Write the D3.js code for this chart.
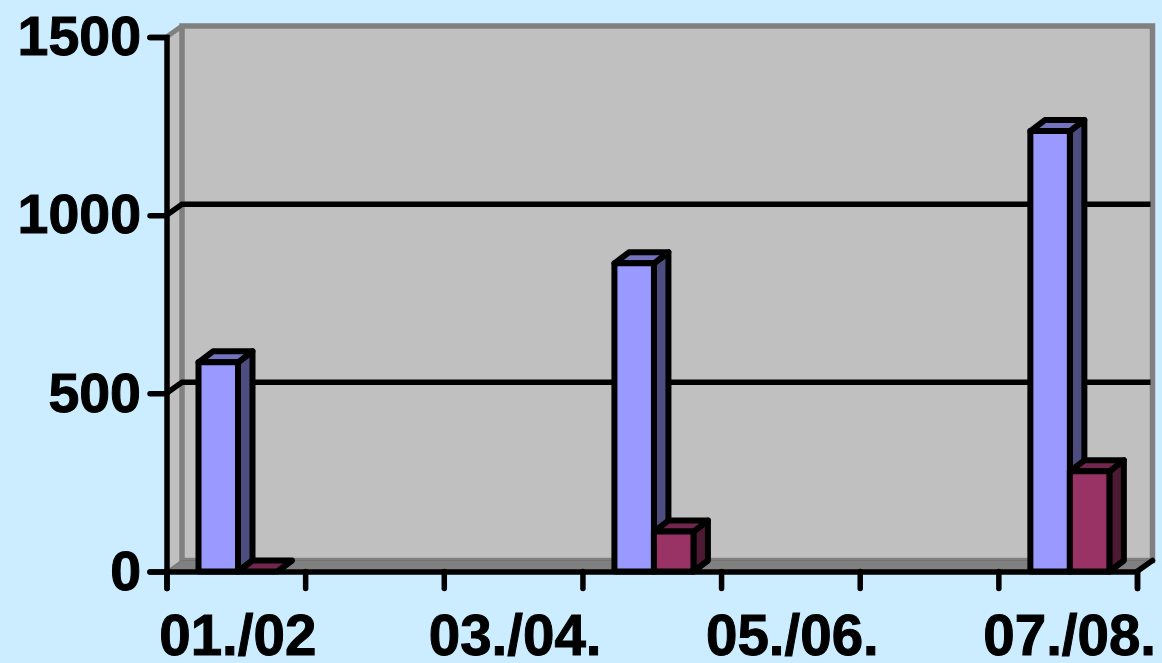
<!DOCTYPE html>
<html>
<head>
<meta charset="utf-8">
<script src="https://cdnjs.cloudflare.com/ajax/libs/d3/7.8.5/d3.min.js"></script>
<style>
  html, body { margin: 0; padding: 0; background: #ccecff; overflow: hidden; }
  text { font-family: "Liberation Sans", Arial, sans-serif; font-weight: bold; fill: #000; }
</style>
</head>
<body>
<svg id="chart" width="1162" height="663"></svg>
<script>
var categories = ["01./02", "02./03", "03./04.", "04./05.", "05./06.", "06./07.", "07./08."];
var shownLabels = ["01./02", "03./04.", "05./06.", "07./08."];
var seriesNames = ["a", "b"];
var seriesA = [587, null, null, 865, null, null, 1236];
var seriesB = [0, null, null, 112, null, null, 281];
var yTicks = [0, 500, 1000, 1500];

var left = 166.5, right = 1137, top_ = 37, bottom = 571.5;
var depthX = 15.5, depthY = -11;
var barDepthX = 14.5;

var colors = {
  a: { front: "#9999ff", side: "#4d4d80", top: "#7373bf" },
  b: { front: "#993366", side: "#4d1a33", top: "#73264d" }
};

var svg = d3.select("#chart");

var y = d3.scaleLinear().domain([0, 1500]).range([bottom, top_]);
var x = d3.scaleBand().domain(categories).range([left, right]);
var inner = d3.scaleBand().domain(seriesNames).range([32, 111]);

// left wall
svg.append("path")
  .attr("d", d3.line()([[left, top_], [left + depthX, top_ + depthY], [left + depthX, bottom + depthY], [left, bottom]]))
  .attr("fill", "#c0c0c0")
  .attr("stroke", "#808080")
  .attr("stroke-width", 2);

// back wall
svg.append("rect")
  .attr("x", left + depthX)
  .attr("y", top_ + depthY)
  .attr("width", right - left)
  .attr("height", bottom - top_)
  .attr("fill", "#c0c0c0")
  .attr("stroke", "#808080")
  .attr("stroke-width", 5.5);

svg.append("line")
  .attr("x1", left).attr("y1", top_)
  .attr("x2", left + depthX).attr("y2", top_ + depthY)
  .attr("stroke", "#808080")
  .attr("stroke-width", 5);

// floor
svg.append("path")
  .attr("d", d3.line()([[left, bottom], [left + depthX, bottom + depthY], [right + depthX, bottom + depthY], [right, bottom]]))
  .attr("fill", "#808080")
  .attr("stroke", "#737373")
  .attr("stroke-width", 1);

// gridlines, they start at the axis and bend onto the back wall
yTicks.filter(function(d) { return d > 0 && d < 1500; }).forEach(function(d) {
  svg.append("path")
    .attr("d", d3.line()([[left, y(d)], [left + depthX, y(d) + depthY], [right + depthX - 2, y(d) + depthY]]))
    .attr("fill", "none")
    .attr("stroke", "#000")
    .attr("stroke-width", 5.5);
});

// floor edge on the right side
svg.append("line")
  .attr("x1", right).attr("y1", bottom)
  .attr("x2", right + depthX).attr("y2", bottom + depthY)
  .attr("stroke", "#000")
  .attr("stroke-width", 5.5)
  .attr("stroke-linecap", "round");

function drawBar(g, x0, w, value, c) {
  var yt = y(value), dx = barDepthX, dy = depthY;
  var faces = [
    { fill: c.side, pts: [[x0 + w, yt], [x0 + w + dx, yt + dy], [x0 + w + dx, bottom + dy], [x0 + w, bottom]] },
    { fill: c.top, pts: [[x0, yt], [x0 + dx, yt + dy], [x0 + w + dx, yt + dy], [x0 + w, yt]] },
    { fill: c.front, pts: [[x0, yt], [x0 + w, yt], [x0 + w, bottom], [x0, bottom]] }
  ];
  // a zero bar is only its lid
  if (value === 0) faces = faces.slice(1, 2);
  g.selectAll("path").data(faces).enter().append("path")
    .attr("d", function(d) { return d3.line()(d.pts) + "Z"; })
    .attr("fill", function(d) { return d.fill; })
    .attr("stroke", "#000")
    .attr("stroke-width", 6)
    .attr("stroke-linejoin", "round");
}

categories.forEach(function(cat, i) {
  if (seriesA[i] === null) return;
  drawBar(svg.append("g"), x(cat) + inner("a"), inner.bandwidth(), seriesA[i], colors.a);
  drawBar(svg.append("g"), x(cat) + inner("b"), inner.bandwidth(), seriesB[i], colors.b);
});

// axes
var yAxis = d3.axisLeft(y).tickValues(yTicks).tickSize(16.5).tickPadding(9).tickFormat(d3.format("d"));
var yG = svg.append("g").attr("transform", "translate(" + left + ",0)").call(yAxis);

var bandEdges = categories.map(function(c) { return x(c); }).concat([right]);
var xEdge = d3.scaleLinear().domain([left, right]).range([left, right]);
var xTicksG = d3.axisBottom(xEdge).tickValues(bandEdges).tickSize(17).tickFormat("");
var xG = svg.append("g").attr("transform", "translate(0," + bottom + ")").call(xTicksG);

var xLabels = d3.axisBottom(x).tickSize(0).tickPadding(43)
  .tickFormat(function(d) { return shownLabels.indexOf(d) >= 0 ? d : ""; });
var xL = svg.append("g").attr("transform", "translate(2," + bottom + ")").call(xLabels);
xL.select(".domain").remove();

[yG, xG].forEach(function(g) {
  g.selectAll(".domain")
    .attr("stroke", "#000")
    .attr("stroke-width", 5.5)
    .attr("stroke-linecap", "round");
  g.selectAll(".tick line")
    .attr("stroke", "#000")
    .attr("stroke-width", 5.5)
    .attr("stroke-linecap", "round");
});

svg.selectAll("text")
  .style("font-family", '"Liberation Sans", Arial, sans-serif')
  .style("font-weight", "bold")
  .style("font-size", "55.5px")
  .attr("fill", "#000")
  .attr("stroke", "#000")
  .attr("stroke-width", 1);

xL.selectAll("text").style("font-size", "56.5px");
</script>
</body>
</html>
